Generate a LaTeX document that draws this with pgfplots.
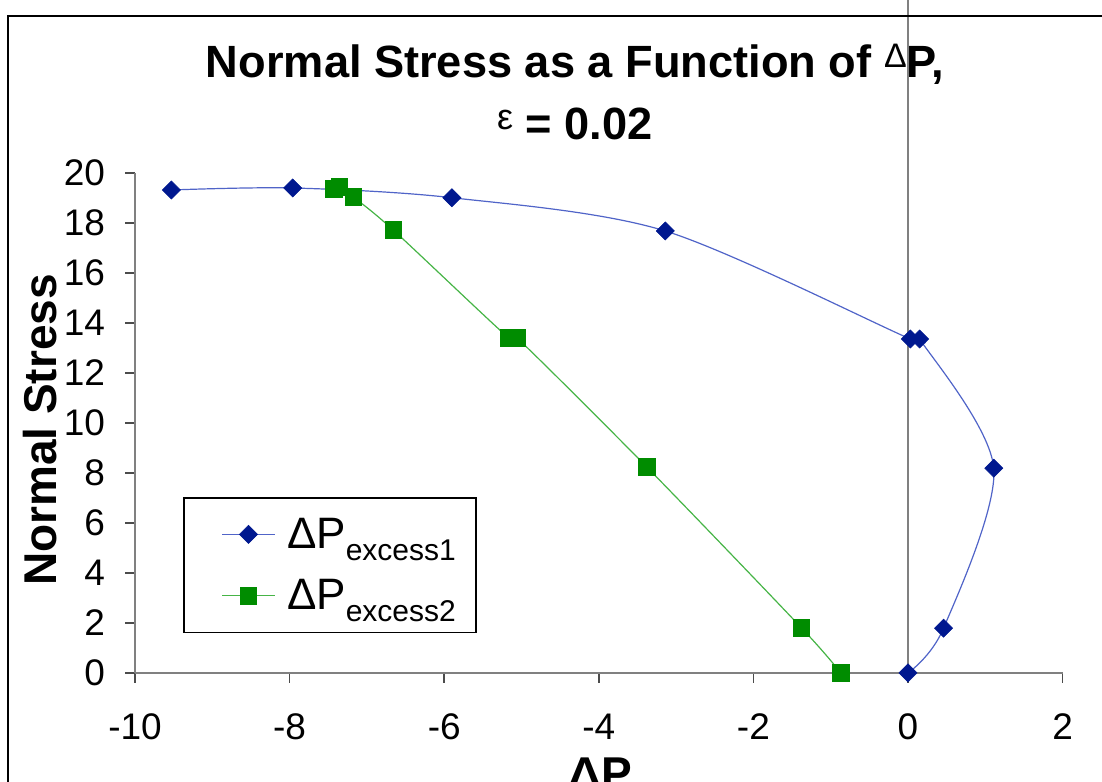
\documentclass[border=0pt]{standalone}
\usepackage{pgfplots}
\pgfplotsset{compat=1.18}
\usepackage{fontspec}
\setmainfont{Liberation Sans}
\definecolor{navyM}{RGB}{0,24,143}
\definecolor{blueL}{RGB}{80,100,200}
\definecolor{greenM}{RGB}{0,140,0}
\definecolor{greenL}{RGB}{70,180,70}
\definecolor{axgray}{RGB}{128,128,128}
\newcommand{\smallDelta}{\raisebox{5pt}{\fontsize{17}{17}\selectfont\mdseries Δ}}
\newcommand{\smallEps}{\raisebox{5pt}{\fontsize{18}{18}\selectfont\mdseries ε}}
\begin{document}
\begin{tikzpicture}
\begin{axis}[
  x=38.65pt, y=12.5pt,
  xmin=-10, xmax=2, ymin=0, ymax=20,
  axis x line=bottom, axis y line=left,
  axis line style={axgray, line width=1pt, -},
  xtick={-10,-8,...,2}, ytick={0,2,...,20},
  tick align=outside,
  major tick length=5pt,
  tick style={black!70, line width=0.8pt},
  tick label style={font=\fontsize{18.5}{18.5}\selectfont},
  xticklabel style={yshift=-12pt},
  yticklabel style={xshift=-6.5pt},
  /pgf/number format/assume math mode=true,
  clip=false,
  title={Normal Stress as a Function of \smallDelta P,\\ \smallEps\ = 0.02},
  title style={at={(axis cs:-4.31,24.94)}, anchor=north, align=center,
    font=\fontsize{22.6}{31}\selectfont\bfseries},
  xlabel={ΔP},
  xlabel style={at={(axis cs:-3.98,-3.1)}, anchor=north, font=\fontsize{23}{23}\selectfont\bfseries},
  ylabel={Normal Stress},
  ylabel style={at={(axis cs:-11.23,9.72)}, anchor=center, font=\fontsize{23}{23}\selectfont\bfseries},
  legend style={at={(axis cs:-9.379,7.04)}, anchor=north west, draw=black, line width=0.8pt,
    fill=white, inner xsep=19pt, inner ysep=8pt, font=\fontsize{22}{22}\selectfont,
    row sep=10pt, nodes={inner sep=2pt}},
  legend cell align=left,
  legend image code/.code={\draw[mark repeat=2, mark phase=2] plot coordinates {(0pt,0pt) (13pt,0pt) (26pt,0pt)};},
]
\addplot[color=blueL, line width=0.6pt, smooth, mark=square*, mark size=3.2pt,
  mark options={rotate=45, fill=navyM, draw=navyM, line width=0.3pt}]
  coordinates {(0,0) (0.46,1.79) (1.11,8.19) (0.15,13.36) (0.03,13.36) (-3.14,17.68) (-5.90,19.01) (-7.96,19.40) (-9.53,19.32)};
\addlegendentry{\hspace*{4pt}ΔP\raisebox{-6pt}{\fontsize{15}{15}\selectfont excess1}\hspace*{-11pt}}
\addplot[color=greenL, line width=0.6pt, smooth, mark=square*, mark size=4.1pt,
  mark options={fill=greenM, draw=greenM, line width=0.3pt}]
  coordinates {(-0.87,0) (-1.38,1.81) (-3.38,8.24) (-5.06,13.41) (-5.17,13.41) (-6.66,17.72) (-7.18,19.05) (-7.36,19.45) (-7.43,19.36)};
\addlegendentry{\hspace*{4pt}ΔP\raisebox{-6pt}{\fontsize{15}{15}\selectfont excess2}\hspace*{-11pt}}
\draw[axgray, line width=1pt] (axis cs:0,0) -- (axis cs:0,28);
\draw[black, line width=1.2pt] (axis cs:3,26.28) -- (axis cs:-11.643,26.28) -- (axis cs:-11.643,-5);
\coordinate (BL) at (axis cs:-11.747,-4.36);
\coordinate (TR) at (axis cs:2.51,26.92);
\end{axis}
\pgfresetboundingbox
\path[use as bounding box] (BL) rectangle (TR);
\end{tikzpicture}
\end{document}
